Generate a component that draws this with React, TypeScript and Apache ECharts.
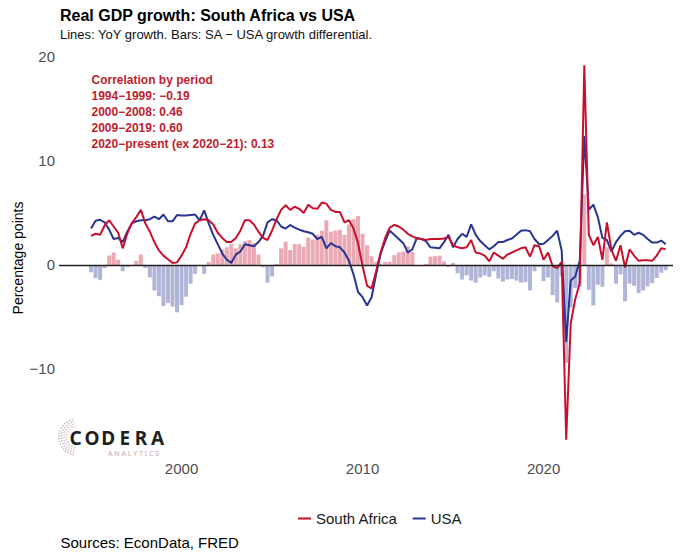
import React, { useEffect, useRef } from "react";
import * as echarts from "echarts";

// Quarterly YoY real GDP growth (%), plotted from 1995 Q1 position onward
const firstPosition = 1995;
const southAfrica = [
  2.8, 3.0, 2.9, 3.8, 4.3, 3.7, 3.1, 1.6, 3.0, 4.0,
  4.6, 5.3, 4.0, 3.2, 2.2, 1.4, 0.9, 0.55, 0.2, 0.25,
  0.9, 1.7, 3.0, 4.0, 4.3, 4.4, 4.3, 3.9, 3.1, 2.6,
  2.2, 2.2, 2.6, 3.3, 4.3, 4.3, 3.9, 3.2, 2.6, 2.4,
  3.3, 4.4, 5.3, 5.75, 5.3, 5.6, 5.4, 5.0, 5.8, 5.45,
  5.4, 6.0, 5.9, 5.3, 5.1, 5.1, 4.1, 4.3, 3.5, 2.1,
  -0.1, -2.0, -2.25, -0.6, 1.2, 2.6, 3.6, 3.85, 3.7, 3.4,
  3.0, 2.75, 2.55, 2.5, 2.4, 2.5, 2.5, 2.5, 2.55, 2.7,
  1.9, 1.7, 1.6, 1.7, 2.4, 1.2, 1.1, 0.9, 0.35, 1.2,
  0.9, 0.6, 1.0, 1.2, 1.4, 1.6, 1.7, 0.8, 1.9, 1.8,
  0.5, 1.2, -0.1, -0.3, 0.3, -16.8, -5.6, -3.3, -1.7, 19.2,
  2.9, 1.9, 2.7, 0.5, 4.1, 1.45, 0.4, 1.9, -0.25, 1.5,
  0.9, 0.4, 0.45, 0.45, 0.4, 0.9, 1.6, 1.5,
];
const usa = [
  3.5, 4.25, 4.35, 4.1, 3.4, 2.5, 2.6, 2.2, 3.2, 4.0,
  4.2, 4.3, 4.3, 4.4, 4.65, 4.4, 4.85, 4.2, 4.2, 4.8,
  4.75, 4.75, 4.8, 4.85, 4.3, 5.25, 4.0, 2.9, 2.0, 1.1,
  0.5, 0.2, 1.0, 1.3, 2.0, 1.9, 1.8, 2.2, 2.8, 4.1,
  4.4, 4.3, 3.7, 3.5, 3.85, 3.6, 3.4, 3.25, 3.15, 3.0,
  2.5, 2.7, 1.6, 2.1, 1.8, 1.7, 1.2, 0.4, -0.9, -2.6,
  -3.1, -3.9, -3.1, -0.9, 1.1, 2.3, 3.3, 2.9, 2.5, 2.1,
  1.2, 1.5, 2.6, 2.5, 2.3, 1.7, 1.65, 1.6, 2.2, 2.9,
  1.7, 2.5, 3.0, 2.7, 3.9, 2.9, 2.3, 1.9, 1.5, 1.8,
  2.2, 2.2, 2.4, 2.55, 2.9, 3.3, 3.35, 3.25, 2.5, 2.0,
  2.05, 2.4, 2.8, 3.3, 1.4, -7.4, -1.5, -1.1, 0.4, 12.4,
  5.3, 5.8, 4.6, 2.6, 2.4, 1.3, 2.2, 2.8, 3.25, 3.3,
  2.9, 3.1, 2.9, 2.5, 2.15, 2.15, 2.35, 2.0,
];
const xTickLabels = [2000, 2010, 2020];
const yTickLabels = [-10, 0, 10, 20];
const seriesNames = ["South Africa", "USA"];
const correlationLines = [
  "Correlation by period",
  "1994\u22121999: \u22120.19",
  "2000\u22122008: 0.46",
  "2009\u22122019: 0.60",
  "2020\u2212present (ex 2020\u221221): 0.13",
];
const titleText = "Real GDP growth: South Africa vs USA";
const subtitleText = "Lines: YoY growth. Bars: SA \u2212 USA growth differential.";
const yAxisTitle = "Percentage points";
const sourceText = "Sources: EconData, FRED";
const logoLetters = ["C", "O", "D", "E", "R", "A"];

const RED = "#C8102E";
const BLUE = "#283593";
const FONT = '"Liberation Sans", Arial, sans-serif';

function buildOption() {
  const positions = southAfrica.map((_, i) => firstPosition + i / 4);
  const saData = positions.map((x, i) => [x, southAfrica[i]]);
  const usData = positions.map((x, i) => [x, usa[i]]);
  const diffData = positions.map((x, i) => {
    const d = Math.round((southAfrica[i] - usa[i]) * 100) / 100;
    return {
      value: [x, d],
      itemStyle: { color: d >= 0 ? "rgba(200,16,46,0.36)" : "rgba(40,53,147,0.36)" },
    };
  });

  const graphics: any[] = [
    {
      type: "text", x: 60, y: 15, silent: true,
      style: { text: titleText, font: `bold 16px ${FONT}`, fill: "#000", align: "left", verticalAlign: "middle", textAlign: "left", textVerticalAlign: "middle" },
    },
    {
      type: "text", x: 60, y: 34, silent: true,
      style: { text: subtitleText, font: `13px ${FONT}`, fill: "#111", align: "left", verticalAlign: "middle", textAlign: "left", textVerticalAlign: "middle" },
    },
    {
      type: "text", x: 18, y: 258, rotation: Math.PI / 2, silent: true,
      style: { text: yAxisTitle, font: `14px ${FONT}`, fill: "#000", align: "center", verticalAlign: "middle", textAlign: "center", textVerticalAlign: "middle" },
    },
    {
      type: "text", x: 60.5, y: 542.5, silent: true,
      style: { text: sourceText, font: `15px ${FONT}`, fill: "#000", align: "left", verticalAlign: "middle", textAlign: "left", textVerticalAlign: "middle" },
    },
  ];
  correlationLines.forEach((line, k) => {
    graphics.push({
      type: "text", x: 91.5, y: 80 + k * 16.1, silent: true,
      style: { text: line, font: `bold 12px ${FONT}`, fill: "#BE1E2D", align: "left", verticalAlign: "middle", textAlign: "left", textVerticalAlign: "middle" },
    });
  });
  // logo mark
  const arcColors = ["#dcb0b9", "#bcc2d2", "#e3c3ca", "#c9ccd6"];
  [18, 15.5, 13, 10.5].forEach((r, k) => {
    graphics.push({
      type: "arc", silent: true,
      shape: { cx: 77, cy: 437, r, startAngle: 1.75, endAngle: 4.55, clockwise: true },
      style: { stroke: arcColors[k], lineWidth: 1.6, lineDash: [1.4, 1.4], fill: null },
    });
  });
  logoLetters.forEach((ch, k) => {
    graphics.push({
      type: "text", x: 75.5 + k * 16.4, y: 438, silent: true,
      style: { text: ch, font: `bold 19px "Noto Sans", ${FONT}`, fill: "#1f1f1f", align: "center", verticalAlign: "middle", textAlign: "center", textVerticalAlign: "middle" },
    });
  });
  graphics.push({
    type: "text", x: 108, y: 453.5, silent: true,
    style: { text: "A N A L Y T I C S", font: `7px "Noto Sans", ${FONT}`, fill: "#c7a3ab", align: "left", verticalAlign: "middle", textAlign: "left", textVerticalAlign: "middle" },
  });

  return {
    animation: false,
    backgroundColor: "#fff",
    textStyle: { fontFamily: FONT },
    grid: { left: 59, right: 7, top: 46.6, bottom: 93.6, containLabel: false, outerBoundsMode: "none" },
    legend: {
      data: seriesNames,
      left: 293,
      top: 506,
      icon: "rect",
      itemWidth: 13,
      itemHeight: 2,
      itemGap: 15,
      textStyle: { fontSize: 15, color: "#1a1a1a", fontFamily: FONT },
    },
    xAxis: {
      type: "value",
      min: 1993.23,
      max: 2027.15,
      axisLine: { show: false },
      axisTick: { show: false },
      splitLine: { show: false },
      axisLabel: {
        color: "#4D4D4D",
        fontSize: 15,
        margin: 3,
        fontFamily: FONT,
        showMinLabel: false,
        showMaxLabel: false,
        formatter: (v: number) => (xTickLabels.indexOf(Math.round(v)) >= 0 && Math.abs(v - Math.round(v)) < 1e-6 ? String(Math.round(v)) : ""),
      },
    },
    yAxis: {
      type: "value",
      min: -18.6,
      max: 21.0,
      axisLine: { show: false },
      axisTick: { show: false },
      splitLine: { show: false },
      axisLabel: {
        color: "#4D4D4D",
        fontSize: 15,
        margin: 4,
        fontFamily: FONT,
        showMinLabel: false,
        showMaxLabel: false,
        formatter: (v: number) => {
          const r = Math.round(v);
          if (Math.abs(v - r) > 1e-6 || yTickLabels.indexOf(r) < 0) return "";
          return r < 0 ? "\u2212" + Math.abs(r) : String(r);
        },
      },
    },
    graphic: graphics,
    series: [
      {
        name: "differential",
        type: "bar",
        data: diffData,
        barWidth: 4,
        z: 2,
        silent: true,
        markLine: {
          silent: true,
          symbol: ["none", "none"],
          label: { show: false },
          lineStyle: { color: "#222", width: 1.3, type: "solid" },
          data: [{ yAxis: 0 }],
        },
      },
      {
        name: seriesNames[0],
        type: "line",
        data: saData,
        showSymbol: false,
        symbol: "none",
        z: 4,
        lineStyle: { color: RED, width: 2 },
        itemStyle: { color: RED },
      },
      {
        name: seriesNames[1],
        type: "line",
        data: usData,
        showSymbol: false,
        symbol: "none",
        z: 3,
        lineStyle: { color: BLUE, width: 2 },
        itemStyle: { color: BLUE },
      },
    ],
  };
}

export default function App() {
  const ref = useRef<HTMLDivElement>(null);
  useEffect(() => {
    if (!ref.current) return;
    const chart = echarts.init(ref.current, null, { renderer: "svg" });
    chart.setOption(buildOption() as any);
    return () => chart.dispose();
  }, []);
  return (
    <div
      ref={ref}
      style={{ position: "fixed", left: 0, top: 0, width: 680, height: 552, background: "#fff" }}
    />
  );
}
